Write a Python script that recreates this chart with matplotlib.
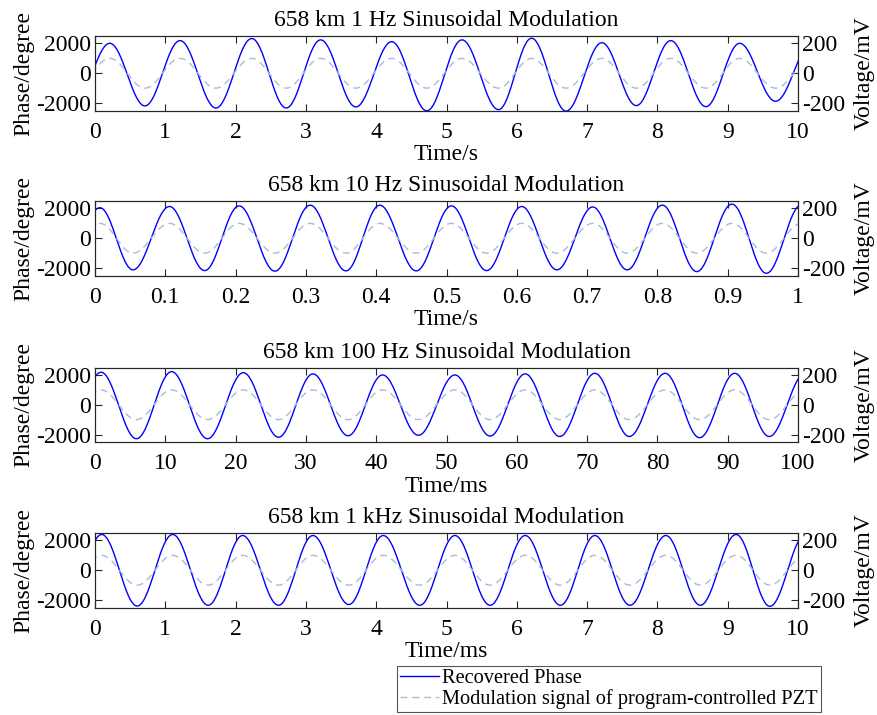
import numpy as np
import matplotlib.pyplot as plt

plt.rcParams['font.family'] = ['Liberation Serif', 'DejaVu Serif']

# panel texts
titles = ["658 km 1 Hz Sinusoidal Modulation",
          "658 km 10 Hz Sinusoidal Modulation",
          "658 km 100 Hz Sinusoidal Modulation",
          "658 km 1 kHz Sinusoidal Modulation"]
xlabels = ["Time/s", "Time/s", "Time/ms", "Time/ms"]
x_ends = [10, 1, 100, 10]
x_ticks = [list(range(0, 11)),
           [0, 0.1, 0.2, 0.3, 0.4, 0.5, 0.6, 0.7, 0.8, 0.9, 1],
           list(range(0, 101, 10)),
           list(range(0, 11))]
x_ticklabels = [[str(v) for v in x_ticks[0]],
                ["0", "0.1", "0.2", "0.3", "0.4", "0.5", "0.6", "0.7", "0.8", "0.9", "1"],
                [str(v) for v in x_ticks[2]],
                [str(v) for v in x_ticks[3]]]

# recovered phase, extrema (degree)
p1_peak_t = [0.21, 1.21, 2.23, 3.21, 4.22, 5.22, 6.21, 7.21, 8.19, 9.17, 10.20]
p1_peak_v = [2010, 2190, 2330, 2240, 2120, 2240, 2350, 2050, 2190, 2010, 2050]
p1_trough_t = [-0.29, 0.71, 1.72, 2.72, 3.71, 4.72, 5.74, 6.70, 7.70, 8.69, 9.68]
p1_trough_v = [-2000, -2190, -2330, -2330, -2260, -2520, -2440, -2540, -2170, -2240, -1880]

p2_peak_t = [0.007, 0.106, 0.205, 0.306, 0.405, 0.507, 0.607, 0.708, 0.807, 0.906, 1.005]
p2_peak_v = [2050, 2130, 2170, 2220, 2220, 2170, 2130, 2100, 2220, 2290, 2250]
p2_trough_t = [-0.044, 0.054, 0.156, 0.256, 0.357, 0.457, 0.557, 0.657, 0.757, 0.856, 0.955]
p2_trough_v = [-2100, -2120, -2170, -2210, -2190, -2190, -2170, -2120, -2120, -2240, -2350]

p3_peak_t = [0.85, 10.9, 21.1, 31.0, 40.9, 51.2, 61.2, 71.1, 81.1, 91.0, 101.0]
p3_peak_v = [2180, 2220, 2150, 2070, 2000, 2000, 2070, 2110, 2110, 2110, 2100]
p3_trough_t = [-4.1, 5.9, 16.0, 26.1, 36.0, 46.0, 56.2, 66.1, 76.0, 86.0, 95.9]
p3_trough_v = [-2200, -2280, -2280, -2180, -2080, -2050, -2100, -2130, -2130, -2210, -2130]

p4_peak_t = [0.095, 1.105, 2.10, 3.10, 4.10, 5.12, 6.12, 7.11, 8.12, 9.12, 10.1]
p4_peak_v = [2400, 2400, 2330, 2330, 2330, 2330, 2330, 2330, 2330, 2400, 2350]
p4_trough_t = [-0.40, 0.60, 1.61, 2.61, 3.61, 4.62, 5.62, 6.62, 7.61, 8.61, 9.60]
p4_trough_v = [-2350, -2400, -2350, -2350, -2300, -2350, -2350, -2350, -2350, -2350, -2420]

# PZT drive amplitude (mV), in phase with the recovered phase
mod_amp = 100

panels = [(p1_peak_t, p1_peak_v, p1_trough_t, p1_trough_v),
          (p2_peak_t, p2_peak_v, p2_trough_t, p2_trough_v),
          (p3_peak_t, p3_peak_v, p3_trough_t, p3_trough_v),
          (p4_peak_t, p4_peak_v, p4_trough_t, p4_trough_v)]


def join_extrema(ts, vs, n=40):
    # half-cosine segments between successive extrema
    order = np.argsort(ts)
    ts = np.asarray(ts, float)[order]
    vs = np.asarray(vs, float)[order]
    xx, yy = [], []
    for i in range(len(ts) - 1):
        s = np.linspace(0, 1, n, endpoint=False)
        xx.append(ts[i] + (ts[i + 1] - ts[i]) * s)
        yy.append(vs[i] + (vs[i + 1] - vs[i]) * (1 - np.cos(np.pi * s)) / 2)
    xx.append([ts[-1]])
    yy.append([vs[-1]])
    return np.concatenate(xx), np.concatenate(yy)


fig = plt.figure(figsize=(8.77, 7.15), dpi=100)
left, width = 95 / 877, 703 / 877
tops = [36, 201, 367.5, 533]
h = 74.5

fs = 17
blue = '#0000ff'
light = '#a6bcd8'
frame = '#262626'

for k in range(4):
    pk_t, pk_v, tr_t, tr_v = panels[k]
    ax = fig.add_axes([left, 1 - (tops[k] + h) / 715, width, h / 715])
    x, y = join_extrema(pk_t + tr_t, pk_v + tr_v)
    xs, ys = join_extrema(pk_t + tr_t, [mod_amp] * len(pk_t) + [-mod_amp] * len(tr_t))

    l1, = ax.plot(x, y, color=blue, lw=1.0, label="Recovered Phase")
    ax.set_xlim(0, x_ends[k])
    ax.set_ylim(-2500, 2500)
    ax.set_yticks([-2000, 0, 2000])
    ax.set_yticklabels(["-2000", "0", "2000"])
    ax.set_xticks(x_ticks[k])
    ax.set_xticklabels(x_ticklabels[k])
    ax.set_ylabel("Phase/degree", fontsize=fs, labelpad=1)
    ax.set_xlabel(xlabels[k], fontsize=fs, labelpad=1)
    ax.set_title(titles[k], fontsize=fs, pad=7)
    ax.tick_params(direction='in', length=5, labelsize=fs, top=True, colors=frame,
                   labelcolor='black')
    ax.tick_params(axis='x', pad=8)
    ax.tick_params(axis='y', pad=3)

    ax2 = ax.twinx()
    l2, = ax2.plot(xs, ys, color=light, lw=1.0, ls=(0, (5, 3.5)),
                   label="Modulation signal of program-controlled PZT")
    ax2.set_ylim(-250, 250)
    ax2.set_yticks([-200, 0, 200])
    ax2.set_yticklabels(["-200", "0", "200"])
    ax2.set_ylabel("Voltage/mV", fontsize=fs, labelpad=6)
    ax2.tick_params(direction='in', length=5, labelsize=fs, colors=frame,
                    labelcolor='black', pad=3)
    for a in (ax, ax2):
        for sp in a.spines.values():
            sp.set_color(frame)
            sp.set_linewidth(0.8)

leg = fig.legend([l1, l2], [l1.get_label(), l2.get_label()],
                 loc='upper left', bbox_to_anchor=(397 / 877, 1 - 666 / 715),
                 fontsize=14.7, frameon=True, fancybox=False, framealpha=1,
                 edgecolor='#555555', handlelength=1.9, handletextpad=0.15,
                 borderpad=0.15, labelspacing=0.05, borderaxespad=0)
leg.get_frame().set_linewidth(0.8)

fig.savefig("out.png", dpi=100)
